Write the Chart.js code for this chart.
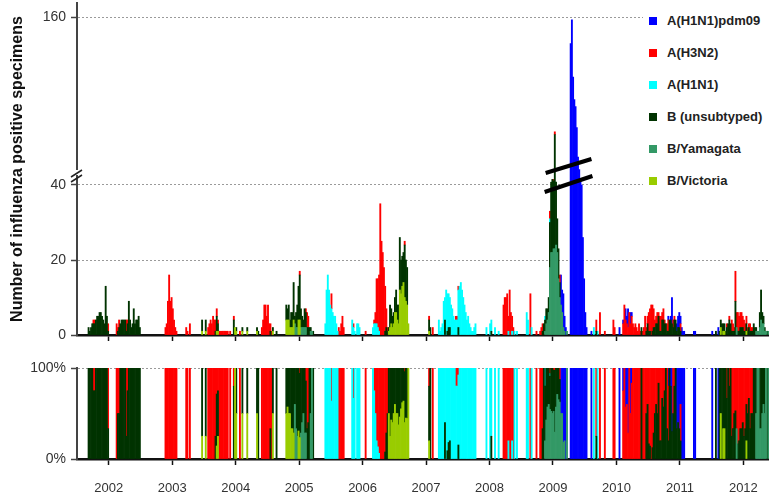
<!DOCTYPE html>
<html>
<head>
<meta charset="utf-8">
<script src="https://cdn.jsdelivr.net/npm/chart.js@4.4.1/dist/chart.umd.min.js"></script>
<style>
  body { margin: 0; background: #fff; font-family: "Liberation Sans", Arial, sans-serif; }
  #wrap { position: relative; width: 769px; height: 498px; overflow: hidden; }
  canvas { position: absolute; left: 0; }
  #legend { position: absolute; left: 643px; top: 0; width: 126px; height: 196px; background: #fff; }
  .item { position: absolute; left: 0; font-weight: bold; font-size: 13px; color: #222; line-height: 16px; white-space: nowrap; }
  .item i { position: absolute; left: 6px; top: 4px; width: 8px; height: 8px; }
  .item span { margin-left: 24px; }
</style>
</head>
<body>
<div id="wrap">
  <canvas id="counts" width="769" height="345" style="top:0"></canvas>
  <canvas id="shares" width="769" height="153" style="top:345px"></canvas>
  <div id="legend"></div>
</div>
<script>
// weekly data, week 0 = first week of 2002, 52 weeks per year
const WEEKS = 567;
const years = ['2002', '2003', '2004', '2005', '2006', '2007', '2008', '2009', '2010', '2011', '2012'];
const countTicks = [0, 20, 40, 160];

// each segment: [first week, value, value, ...]
const bVictoria = [
  [102, 1], [105, 1], [114, 1, 1], [129, 2, 1], [135, 1], [139, 1], [147, 1], [160, 1],
  [171, 4, 4, 4, 2, 2, 2, 4], [181, 4, 4],
  [255, 1, 2, 3, 2, 3, 6, 6, 4, 3, 12, 11, 13, 14, 10, 9, 8, 3],
  [288, 1],
  [527, 2, 0, 1, 1], [548, 1]
];
const bYamagata = [
  [178, 3, 2, 2, 0, 0, 2, 2, 2, 2, 2], [191, 1, 1],
  [383, 1, 3, 4, 6, 18, 22, 22, 23, 23, 24, 22, 15, 10, 8, 6, 2, 1, 0, 1],
  [540, 2], [556, 1, 1, 1, 2, 4, 3, 3, 1, 1], [566, 1]
];
const bUnsubtyped = [
  [9, 2, 1, 2, 3, 3, 3, 4, 5, 5, 6, 6, 5, 4, 3, 13, 5, 1],
  [33, 1, 2, 3, 4, 4, 4, 4, 1, 3, 9, 4, 2, 3, 7, 3, 4, 4, 5, 2],
  [102, 3], [105, 3], [113, 1, 4, 2], [128, 4], [130, 1], [135, 1], [139, 1], [147, 1, 1],
  [158, 1], [160, 1], [163, 1],
  [171, 4, 3, 4, 2, 4, 4, 10, 2, 4, 6, 9, 12, 5, 3, 2, 5, 4, 2, 2, 2, 1, 0, 1],
  [252, 1, 2, 1],
  [255, 1, 6, 4, 3, 3, 4, 6, 4, 5, 14, 9, 8, 8, 14, 11, 10],
  [288, 3, 2],
  [301, 4], [303, 1, 2, 2], [312, 2], [339, 1],
  [381, 1, 3, 3, 4, 3, 4, 12, 20, 22, 20, 53, 18, 9, 8, 4],
  [425, 1], [462, 2],
  [466, 1, 3, 1, 1, 0, 1, 2, 2, 3, 3, 5, 1, 1, 4, 4, 3, 3, 1, 1, 4, 4, 3, 2, 4, 4, 1, 2, 2, 1],
  [523, 1], [526, 1],
  [527, 2, 3, 2, 2, 1, 2, 3, 4, 3, 1, 1, 1, 9],
  [541, 1, 1, 2, 2, 2, 1, 1, 2, 1, 2, 1, 1, 1, 3, 2, 1],
  [559, 4, 8, 3, 2, 1], [565, 1]
];
const aH1N1 = [
  [203, 3, 12, 16, 12, 8, 7, 6, 5, 5, 3, 1],
  [225, 4, 2, 1, 0, 3, 3, 2],
  [242, 2, 3, 3, 3, 2, 1],
  [296, 4, 1, 2, 3, 9, 6, 12, 10, 9, 8, 8, 7, 5, 4, 4, 4, 10, 13, 14, 12, 10, 8, 6, 4, 5, 3, 2, 1, 1, 2, 3],
  [335, 2], [338, 3, 3], [342, 2], [345, 1],
  [353, 1], [356, 1], [358, 1], [360, 1], [368, 6, 4], [372, 2],
  [383, 1], [387, 1],
  [423, 2], [426, 1]
];
const aH3N2 = [
  [13, 1, 1], [25, 2], [32, 3, 1, 2], [40, 3, 1],
  [72, 2, 3, 9, 16, 9, 10, 7, 4, 2, 1], [89, 2, 1], [92, 3],
  [107, 2, 3, 4, 3, 5, 4, 3, 2, 1, 1, 1, 1, 1, 1, 1, 1, 1], [125, 1], [128, 1], [133, 1],
  [151, 2, 4, 8, 8, 5, 8, 3, 2, 1],
  [182, 1], [187, 1, 4, 3],
  [208, 4], [214, 2, 1, 3, 5, 2], [226, 1], [236, 1],
  [243, 1, 3, 12, 13, 15, 35, 25, 22, 18, 12, 5, 1],
  [268, 1], [288, 1], [291, 2], [310, 1, 1, 1],
  [349, 8, 10, 10, 11, 4, 12, 6, 4, 2],
  [371, 11], [376, 1],
  [379, 1, 2, 2], [387, 2], [390, 1, 2], [395, 2],
  [425, 3], [428, 6], [432, 1], [439, 4, 2],
  [447, 3, 8, 4, 3, 2, 6, 3, 5, 3, 2, 3, 2, 1, 3, 1, 0, 1, 2, 5, 1, 2, 5, 6, 8, 7, 5, 2, 2, 3, 1,
        4, 4, 2, 3, 1, 0, 2, 3, 0, 0, 0, 2, 1, 0, 0, 0, 0, 2],
  [532, 1], [534, 1],
  [536, 3, 2, 1, 8, 4, 5, 4, 4, 4, 3, 3, 2, 2, 1, 1, 2, 1, 1]
];
const aH1N1pdm09 = [
  [396, 8, 6, 9, 4, 2],
  [404, 141, 158, 117, 101, 96, 81, 60, 51, 44, 40, 26, 15, 6, 2],
  [421, 1], [444, 2], [447, 1], [449, 3, 2, 5], [453, 3, 1],
  [484, 1], [486, 1, 7], [491, 2, 3, 4, 2, 2, 1, 1], [505, 1, 1],
  [520, 1], [525, 2]
];

const series = [
  { label: 'B/Victoria', color: '#99cc00', segs: bVictoria },
  { label: 'B/Yamagata', color: '#339966', segs: bYamagata },
  { label: 'B (unsubtyped)', color: '#003300', segs: bUnsubtyped },
  { label: 'A(H1N1)', color: '#00ffff', segs: aH1N1 },
  { label: 'A(H3N2)', color: '#ff0000', segs: aH3N2 },
  { label: 'A(H1N1)pdm09', color: '#0000ff', segs: aH1N1pdm09 }
];

function expand(segs) {
  const out = new Array(WEEKS).fill(0);
  segs.forEach(s => s.slice(1).forEach((v, i) => { out[s[0] + i] = v; }));
  return out;
}

const weekly = series.map(s => expand(s.segs));
const totals = weekly[0].map((_, i) => weekly.reduce((sum, arr) => sum + arr[i], 0));

Chart.defaults.font.family = '"Liberation Sans", Arial, sans-serif';
Chart.defaults.color = '#333';

// y scale with a break: 0-40 below, 40-170 compressed above
const LOW_MAX = 40, TOP_MAX = 170, SPLIT = 150 / 332;
class BrokenScale extends Chart.LinearScale {
  getPixelForValue(v) {
    const t = v <= LOW_MAX ? v / LOW_MAX * SPLIT
      : SPLIT + (v - LOW_MAX) / (TOP_MAX - LOW_MAX) * (1 - SPLIT);
    return this.getPixelForDecimal(t);
  }
  getValueForPixel(p) {
    const t = this.getDecimalForPixel(p);
    return t <= SPLIT ? t / SPLIT * LOW_MAX
      : LOW_MAX + (t - SPLIT) / (1 - SPLIT) * (TOP_MAX - LOW_MAX);
  }
}
BrokenScale.id = 'broken';
BrokenScale.defaults = Chart.LinearScale.defaults;
Chart.register(BrokenScale);

const yearStarts = years.map((_, i) => i * 52);

function weekAxis(height) {
  return {
    type: 'linear', min: 0, max: WEEKS, stacked: true, offset: false,
    afterBuildTicks: s => { s.ticks = yearStarts.map(v => ({ value: v })); },
    afterFit: s => { s.height = height; s.paddingLeft = 0; s.paddingRight = 0; },
    ticks: { callback: () => '', padding: 0 },
    grid: { drawOnChartArea: false, tickLength: 6, tickColor: '#111', tickWidth: 1.5 },
    border: { color: '#111', width: 2.5 }
  };
}

function fixWidth(s) {
  s.width = 77;
  s.paddingTop = 0;
  s.paddingBottom = 0;
}

function yAxisGrid() {
  return {
    grid: {
      color: c => (c.tick && c.tick.value === 0) ? 'rgba(0,0,0,0)' : '#9a9a9a',
      tickColor: '#444', tickWidth: 1.5, tickLength: 6, lineWidth: 1
    },
    border: { color: '#444', width: 2, dash: [2, 2] }
  };
}

const breakMarks = {
  id: 'breakMarks',
  afterDraw(chart) {
    const { ctx, scales: { x, y } } = chart;
    const y40 = y.getPixelForValue(40);
    const ax = x.left;
    ctx.save();
    ctx.fillStyle = '#fff';
    ctx.fillRect(ax - 3, y40 - 15, 6, 5);
    ctx.strokeStyle = '#222';
    ctx.lineWidth = 1.5;
    ctx.beginPath();
    ctx.moveTo(ax - 6, y40 - 8); ctx.lineTo(ax + 5, y40 - 15);
    ctx.moveTo(ax - 6, y40 - 3); ctx.lineTo(ax + 5, y40 - 10);
    ctx.stroke();
    ctx.strokeStyle = '#000';
    ctx.lineWidth = 4;
    const x1 = x.getPixelForValue(384), x2 = x.getPixelForValue(421.5);
    ctx.beginPath();
    ctx.moveTo(x1, y40 - 12); ctx.lineTo(x2, y40 - 26);
    ctx.moveTo(x1 - 1, y40 + 7); ctx.lineTo(x2 + 1, y40 - 9);
    ctx.stroke();
    ctx.restore();
  }
};

const barStyle = { borderWidth: 0, barPercentage: 1, categoryPercentage: 1 };

new Chart(document.getElementById('counts'), {
  type: 'bar',
  data: {
    datasets: series.map((s, k) => Object.assign({
      label: s.label, backgroundColor: s.color,
      data: weekly[k].map((v, i) => ({ x: i + 0.5, y: v || null }))
    }, barStyle))
  },
  options: {
    responsive: false, animation: false, events: [],
    layout: { padding: { top: 3, right: 0, left: 0, bottom: 0 } },
    plugins: { legend: { display: false }, tooltip: { enabled: false } },
    scales: {
      x: weekAxis(10),
      y: Object.assign({
        type: 'broken', min: 0, max: TOP_MAX, stacked: true,
        afterBuildTicks: s => { s.ticks = countTicks.map(v => ({ value: v })); },
        afterFit: fixWidth,
        ticks: { padding: 5, font: { size: 14 }, color: '#333' },
        title: {
          display: true, text: 'Number of influenza positive specimens',
          font: { size: 16, weight: 'bold' }, color: '#111', padding: { top: 8, bottom: 0 }
        }
      }, yAxisGrid())
    }
  },
  plugins: [breakMarks]
});

new Chart(document.getElementById('shares'), {
  type: 'bar',
  data: {
    datasets: series.map((s, k) => Object.assign({
      label: s.label, backgroundColor: s.color,
      data: weekly[k].map((v, i) => ({ x: i + 0.5, y: totals[i] && v ? v / totals[i] * 100 : null }))
    }, barStyle))
  },
  options: {
    responsive: false, animation: false, events: [],
    layout: { padding: { top: 23, right: 0, left: 0, bottom: 0 } },
    plugins: { legend: { display: false }, tooltip: { enabled: false } },
    scales: {
      x: Object.assign(weekAxis(7), { weight: 0 }),
      yr: {
        type: 'linear', position: 'bottom', min: 0, max: WEEKS, weight: 1, offset: false,
        afterBuildTicks: s => { s.ticks = yearStarts.map(v => ({ value: v + 26 })); },
        afterFit: s => { s.height = 32; s.paddingLeft = 0; s.paddingRight = 0; },
        ticks: { callback: v => years[(v - 26) / 52], padding: 15, font: { size: 13 }, color: '#333', autoSkip: false, maxRotation: 0 },
        grid: { display: false, drawTicks: false },
        border: { display: false }
      },
      y: Object.assign({
        min: 0, max: 100, stacked: true,
        afterBuildTicks: s => { s.ticks = [0, 100].map(v => ({ value: v })); },
        afterFit: fixWidth,
        ticks: { padding: 5, font: { size: 14 }, color: '#333', callback: v => v + '%' }
      }, yAxisGrid())
    }
  }
});

// legend, listed top to bottom as in the figure
const legend = document.getElementById('legend');
series.slice().reverse().forEach((s, i) => {
  const d = document.createElement('div');
  d.className = 'item';
  d.style.top = (13 + i * 32) + 'px';
  d.innerHTML = '<i style="background:' + s.color + '"></i><span>' + s.label + '</span>';
  legend.appendChild(d);
});
</script>
</body>
</html>
